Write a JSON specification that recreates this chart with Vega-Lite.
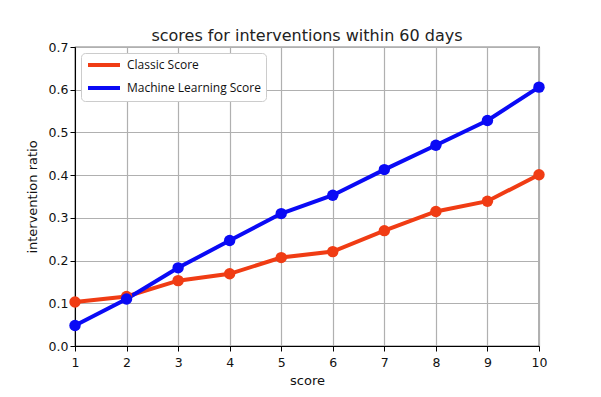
{
  "$schema": "https://vega.github.io/schema/vega-lite/v6.json",
  "width": 464,
  "height": 299,
  "autosize": {"type": "none"},
  "padding": {"left": 75, "top": 47, "right": 62, "bottom": 51},
  "background": "white",
  "title": {"text": "scores for interventions within 60 days", "font": "DejaVu Sans", "fontSize": 16, "fontWeight": "normal", "color": "#222222", "offset": -3, "anchor": "middle"},
  "config": {
    "view": {"stroke": "black", "strokeWidth": 1.2},
    "axis": {"labelFont": "DejaVu Sans", "titleFont": "DejaVu Sans", "labelFontSize": 12.5, "titleFontSize": 13, "titleFontWeight": "normal", "labelColor": "#111", "titleColor": "#111", "gridColor": "#b0b0b0", "gridWidth": 1.2, "domainColor": "black", "tickColor": "black", "tickSize": 5, "labelFlush": false}
  },
  "data": {"values": [
    {"score": 1, "ratio": 0.103, "series": "Classic Score"},
    {"score": 2, "ratio": 0.116, "series": "Classic Score"},
    {"score": 3, "ratio": 0.153, "series": "Classic Score"},
    {"score": 4, "ratio": 0.169, "series": "Classic Score"},
    {"score": 5, "ratio": 0.207, "series": "Classic Score"},
    {"score": 6, "ratio": 0.221, "series": "Classic Score"},
    {"score": 7, "ratio": 0.27, "series": "Classic Score"},
    {"score": 8, "ratio": 0.315, "series": "Classic Score"},
    {"score": 9, "ratio": 0.339, "series": "Classic Score"},
    {"score": 10, "ratio": 0.401, "series": "Classic Score"},
    {"score": 1, "ratio": 0.048, "series": "Machine Learning Score"},
    {"score": 2, "ratio": 0.11, "series": "Machine Learning Score"},
    {"score": 3, "ratio": 0.183, "series": "Machine Learning Score"},
    {"score": 4, "ratio": 0.247, "series": "Machine Learning Score"},
    {"score": 5, "ratio": 0.31, "series": "Machine Learning Score"},
    {"score": 6, "ratio": 0.353, "series": "Machine Learning Score"},
    {"score": 7, "ratio": 0.413, "series": "Machine Learning Score"},
    {"score": 8, "ratio": 0.47, "series": "Machine Learning Score"},
    {"score": 9, "ratio": 0.528, "series": "Machine Learning Score"},
    {"score": 10, "ratio": 0.606, "series": "Machine Learning Score"}
  ]},
  "encoding": {
    "x": {"field": "score", "type": "quantitative", "scale": {"domain": [1, 10], "nice": false}, "axis": {"values": [1,2,3,4,5,6,7,8,9,10], "title": "score", "titlePadding": 6, "labelPadding": 5}},
    "y": {"field": "ratio", "type": "quantitative", "scale": {"domain": [0, 0.7], "nice": false}, "axis": {"values": [0,0.1,0.2,0.3,0.4,0.5,0.6,0.7], "format": ".1f", "title": "intervention ratio", "titlePadding": 9}}
  },
  "layer": [
    {
      "mark": {"type": "line", "strokeWidth": 4, "clip": false},
      "encoding": {
        "color": {"field": "series", "type": "nominal", "scale": {"domain": ["Classic Score", "Machine Learning Score"], "range": ["#f03c14", "#0a0af5"]},
          "legend": {"title": null, "orient": "none", "legendX": 6, "legendY": 6, "symbolType": "M-1,0H5.4", "symbolSize": 100, "symbolStrokeWidth": 4, "labelFont": "Open Sans", "labelFontSize": 12, "labelColor": "#111", "fillColor": "white", "strokeColor": "#cccccc", "cornerRadius": 4, "padding": 5, "rowPadding": 7, "labelOffset": 27}}
      }
    },
    {
      "mark": {"type": "point", "filled": true, "size": 130, "opacity": 1, "clip": false},
      "encoding": {
        "fill": {"field": "series", "type": "nominal", "scale": {"domain": ["Classic Score", "Machine Learning Score"], "range": ["#f03c14", "#0a0af5"]}, "legend": null}
      }
    }
  ]
}
